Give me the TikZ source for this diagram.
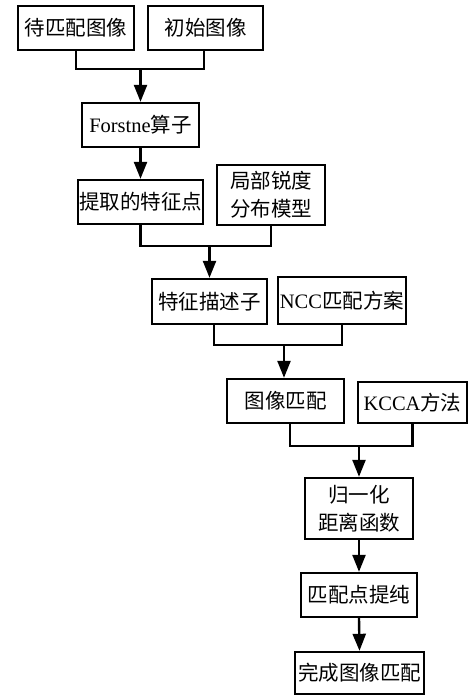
\documentclass[tikz,border=0pt]{standalone}
\usepackage{fontspec}
\setmainfont{Liberation Serif}
\newfontfamily\cjk{Noto Sans CJK SC}
\usetikzlibrary{arrows.meta}
\tikzset{
  box/.style={draw=black, line width=2.4pt, inner sep=0pt, align=center,
    font=\fontsize{20.5}{28}\selectfont},
  conn/.style={line width=2.4pt},
  arr/.style={line width=2.4pt, -{Triangle[width=13pt,length=17pt]}}
}
\begin{document}
\begin{tikzpicture}[x=1pt,y=-1pt]
\useasboundingbox[fill=white] (0,0) rectangle (476,696);
\node[box, minimum width=116pt, minimum height=44pt] (a) at (76,28) {\cjk 待匹配图像};
\node[box, minimum width=115pt, minimum height=44pt] (b) at (205.5,28) {\cjk 初始图像};
\node[box, minimum width=117pt, minimum height=44pt] (c) at (140.5,125) {Forstne{\cjk 算子}};
\node[box, minimum width=125pt, minimum height=44pt] (d) at (140.5,202) {\cjk 提取的特征点};
\node[box, minimum width=108pt, minimum height=60pt] (e) at (271,195) {\cjk 局部锐度\\\cjk 分布模型};
\node[box, minimum width=115pt, minimum height=45pt] (f) at (209.5,301.5) {\cjk 特征描述子};
\node[box, minimum width=128pt, minimum height=47pt] (g) at (342,300.5) {NCC{\cjk 匹配方案}};
\node[box, minimum width=117pt, minimum height=44pt] (h) at (285.5,401) {\cjk 图像匹配};
\node[box, minimum width=109pt, minimum height=41pt] (i) at (412.5,402.5) {KCCA{\cjk 方法}};
\node[box, minimum width=108pt, minimum height=61pt] (j) at (359,508.5) {\cjk 归一化\\\cjk 距离函数};
\node[box, minimum width=116pt, minimum height=44pt] (k) at (359,595) {\cjk 匹配点提纯};
\node[box, minimum width=129pt, minimum height=42pt] (l) at (359.5,673) {\cjk 完成图像匹配};
\coordinate (m1) at (140.5,69);
\coordinate (m2) at (209.5,246);
\coordinate (m3) at (284,345);
\coordinate (m4) at (359,446);
\draw[conn] (a.south) |- (m1) -| ([xshift=-1.5pt]b.south);
\draw[arr] (m1) -- (c.north);
\draw[arr] (c.south) -- (d.north);
\draw[conn] (d.south) |- (m2) -| (e.south);
\draw[arr] (m2) -- (f.north);
\draw[conn] ([xshift=4.5pt]f.south) |- (m3) -| (g.south);
\draw[arr] (m3) -- (m3 |- h.north);
\draw[conn] ([xshift=4.5pt]h.south) |- (m4) -| (i.south);
\draw[arr] (m4) -- (j.north);
\draw[arr] (j.south) -- (k.north);
\draw[arr] (k.south) -- (l.north);
\end{tikzpicture}
\end{document}
